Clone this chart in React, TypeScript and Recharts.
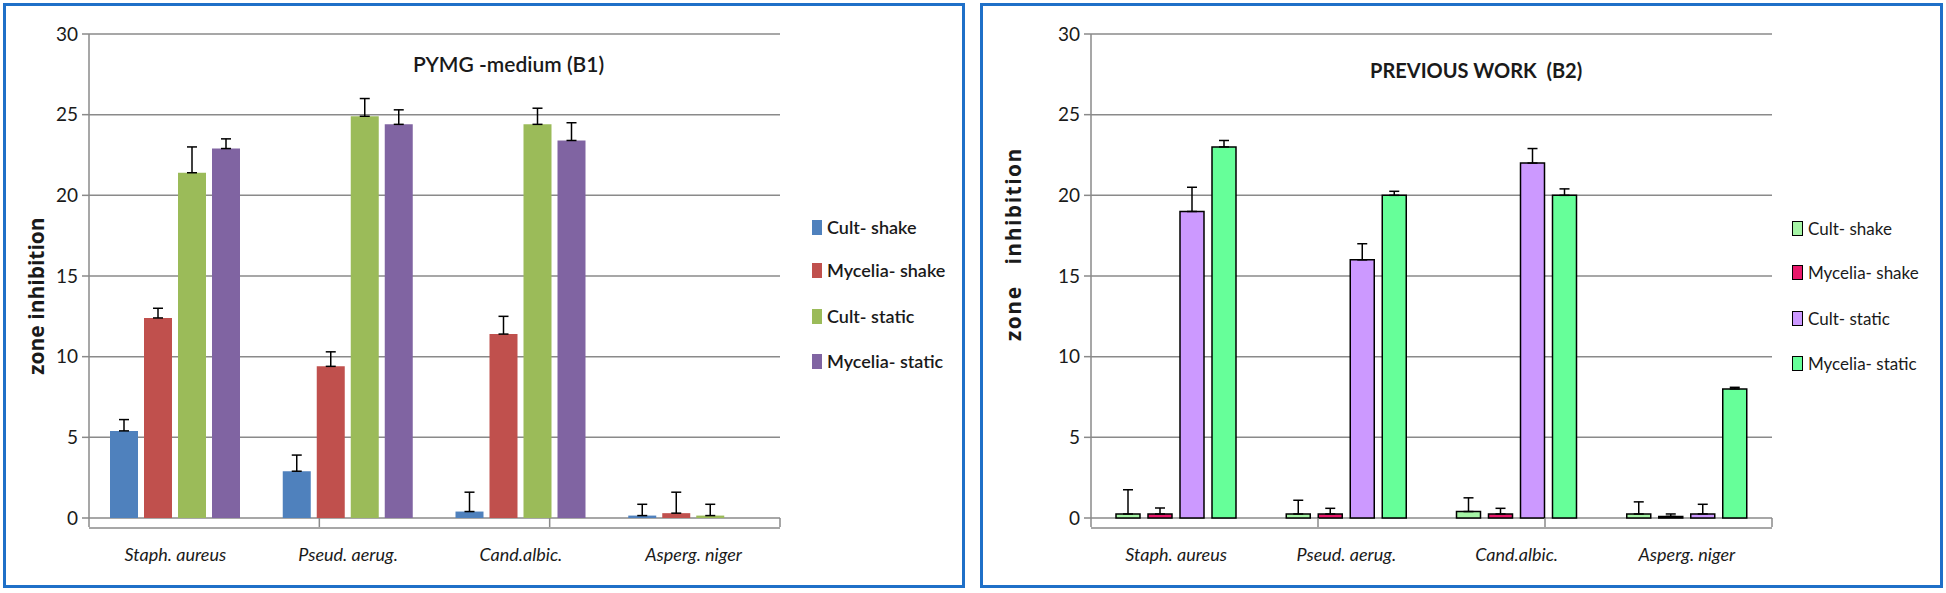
import React from 'react';
import { BarChart, Bar, XAxis, YAxis, CartesianGrid, ErrorBar } from 'recharts';

// categories / series
const categories = ['Staph. aureus', 'Pseud. aerug.', 'Cand.albic.', 'Asperg. niger'];
const seriesNames = ['Cult- shake', 'Mycelia- shake', 'Cult- static', 'Mycelia- static'];
const yTicks = [0, 5, 10, 15, 20, 25, 30];
const boundTicks = [0, 1, 2, 3, 4];

// B1 – PYMG medium
const b1CultShake = [5.4, 2.9, 0.4, 0.15];
const b1CultShakeErr = [0.7, 1.0, 1.2, 0.7];
const b1MycShake = [12.4, 9.4, 11.4, 0.3];
const b1MycShakeErr = [0.6, 0.9, 1.1, 1.3];
const b1CultStatic = [21.4, 24.9, 24.4, 0.15];
const b1CultStaticErr = [1.6, 1.1, 1.0, 0.7];
const b1MycStatic = [22.9, 24.4, 23.4, 0];
const b1MycStaticErr = [0.6, 0.9, 1.1, 0.6];

// B2 – previous work
const b2CultShake = [0.25, 0.25, 0.4, 0.25];
const b2CultShakeErr = [1.5, 0.85, 0.85, 0.75];
const b2MycShake = [0.25, 0.25, 0.25, 0.1];
const b2MycShakeErr = [0.37, 0.35, 0.35, 0.15];
const b2CultStatic = [19, 16, 22, 0.25];
const b2CultStaticErr = [1.5, 1.0, 0.9, 0.6];
const b2MycStatic = [23, 20, 20, 8];
const b2MycStaticErr = [0.4, 0.25, 0.4, 0.1];

const b1Colors = ['#4f81bd', '#c0504d', '#9bbb59', '#8064a2'];
const b2Colors = ['#a6f5a6', '#e8186a', '#cc99ff', '#66ff99'];

const FONT = 'Lato, "DejaVu Sans", sans-serif';
const LABEL_FONT = '"Open Sans", Lato, sans-serif';
const GRID = '#8a8a8a';

function buildRows(vals: number[][], errs: number[][]) {
  return categories.map((name, i) => {
    const row: Record<string, unknown> = { name };
    vals.forEach((v, s) => {
      row['s' + s] = v[i];
      row['e' + s] = [0, errs[s][i]];
    });
    return row;
  });
}

const b1Rows = buildRows(
  [b1CultShake, b1MycShake, b1CultStatic, b1MycStatic],
  [b1CultShakeErr, b1MycShakeErr, b1CultStaticErr, b1MycStaticErr],
);
const b2Rows = buildRows(
  [b2CultShake, b2MycShake, b2CultStatic, b2MycStatic],
  [b2CultShakeErr, b2MycShakeErr, b2CultStaticErr, b2MycStaticErr],
);

interface PanelProps {
  rows: Record<string, unknown>[];
  colors: string[];
  outlined: boolean;
  left: number;
  width: number;
  marginLeft: number;
  marginRight: number;
  barSize: number;
  barGap: number;
}

function Panel({ rows, colors, outlined, left, width, marginLeft, marginRight, barSize, barGap }: PanelProps) {
  return (
    <div style={{ position: 'absolute', left, top: 0 }}>
      <BarChart
        width={width}
        height={593}
        data={rows}
        margin={{ top: 34, right: marginRight, left: marginLeft, bottom: 25 }}
        barSize={barSize}
        barGap={barGap}
      >
        <CartesianGrid vertical={false} stroke={GRID} strokeWidth={1.5} />
        {/* tick marks between categories */}
        <XAxis
          xAxisId="bounds"
          type="number"
          domain={[0, 4]}
          ticks={boundTicks}
          height={10}
          axisLine={false}
          tickLine={{ stroke: GRID, strokeWidth: 1.5 }}
          tickSize={9}
          tickFormatter={() => ''}
        />
        <XAxis
          xAxisId="cat"
          dataKey="name"
          height={40}
          axisLine={{ stroke: GRID, strokeWidth: 1.5 }}
          tickLine={false}
          tickMargin={14}
          tick={{ fill: '#1a1a1a', fontSize: 18, fontStyle: 'italic', fontFamily: FONT }}
        />
        <YAxis
          domain={[0, 30]}
          ticks={yTicks}
          width={60}
          axisLine={{ stroke: GRID, strokeWidth: 1.5 }}
          tickLine={{ stroke: GRID, strokeWidth: 1.5 }}
          tickSize={7}
          tickMargin={4}
          tick={{ fill: '#1a1a1a', fontSize: 19, fontFamily: FONT }}
        />
        {colors.map((c, s) => (
          <Bar
            key={s}
            xAxisId="cat"
            dataKey={'s' + s}
            fill={c}
            stroke={outlined ? '#000' : 'none'}
            strokeWidth={outlined ? 1.5 : 0}
            isAnimationActive={false}
          >
            <ErrorBar dataKey={'e' + s} width={5} stroke="#000" strokeWidth={1.5} direction="y" />
          </Bar>
        ))}
      </BarChart>
    </div>
  );
}

function LegendBox({ x, rowsY, colors, outlined, fontSize, weight }: {
  x: number; rowsY: number[]; colors: string[]; outlined: boolean; fontSize: number; weight: number;
}) {
  return (
    <>
      {seriesNames.map((n, i) => (
        <div
          key={n}
          style={{
            position: 'absolute', left: x, top: rowsY[i] - 12, height: 24,
            display: 'flex', alignItems: 'center', fontFamily: FONT, fontSize,
            fontWeight: weight, color: '#1a1a1a', whiteSpace: 'pre',
          }}
        >
          <span
            style={{
              display: 'inline-block', width: outlined ? 9 : 10, height: outlined ? 13 : 15,
              background: colors[i], border: outlined ? '1.5px solid #000' : 'none', marginRight: 5,
            }}
          />
          {n}
        </div>
      ))}
    </>
  );
}

export default function App() {
  return (
    <div style={{ position: 'absolute', left: 0, top: 0, width: 1946, height: 593, background: '#fff', overflow: 'hidden' }}>
      <div style={{ position: 'absolute', left: 3, top: 3, width: 956, height: 579, border: '3px solid #1f70c8' }} />
      <div style={{ position: 'absolute', left: 980, top: 3, width: 957, height: 579, border: '3px solid #1f70c8' }} />

      <Panel rows={b1Rows} colors={b1Colors} outlined={false} left={0} width={970}
        marginLeft={29} marginRight={190} barSize={28} barGap={6} />
      <Panel rows={b2Rows} colors={b2Colors} outlined={true} left={980} width={966}
        marginLeft={51} marginRight={174} barSize={24} barGap={8} />

      <div style={{ position: 'absolute', left: 413, top: 51, fontFamily: FONT, fontSize: 21, fontWeight: 600, color: '#1a1a1a', whiteSpace: 'pre' }}>
        PYMG -medium (B1)
      </div>
      <div style={{ position: 'absolute', left: 1370, top: 58, fontFamily: FONT, fontSize: 20, fontWeight: 700, color: '#1a1a1a', whiteSpace: 'pre' }}>
        PREVIOUS WORK  (B2)
      </div>

      <div style={{ position: 'absolute', left: 36, top: 296, transform: 'translate(-50%, -50%) rotate(-90deg)', fontFamily: LABEL_FONT, fontSize: 21, fontWeight: 700, color: '#1a1a1a', whiteSpace: 'pre' }}>
        zone inhibition
      </div>
      <div style={{ position: 'absolute', left: 1013, top: 244, transform: 'translate(-50%, -50%) rotate(-90deg)', fontFamily: LABEL_FONT, fontSize: 21, fontWeight: 700, letterSpacing: 1.5, color: '#1a1a1a', whiteSpace: 'pre' }}>
        zone   inhibition
      </div>

      <LegendBox x={812} rowsY={[227, 270, 316, 361]} colors={b1Colors} outlined={false} fontSize={18} weight={600} />
      <LegendBox x={1792} rowsY={[228, 272, 318, 363]} colors={b2Colors} outlined={true} fontSize={17} weight={400} />
    </div>
  );
}
